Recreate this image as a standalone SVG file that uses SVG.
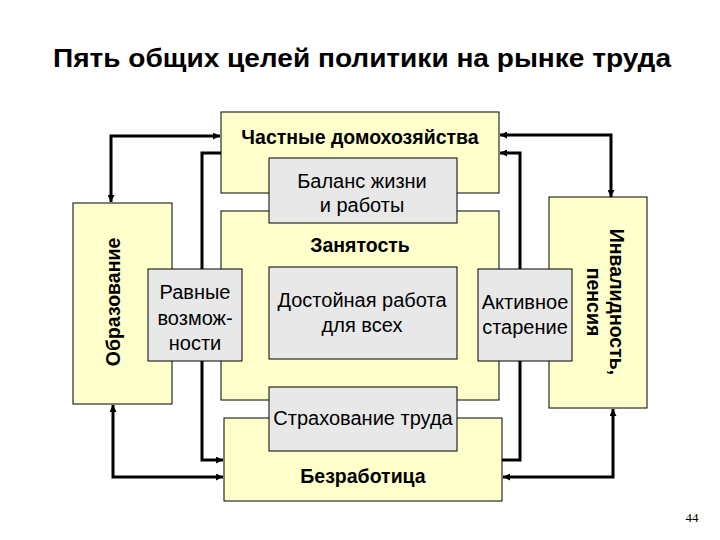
<svg xmlns="http://www.w3.org/2000/svg" width="720" height="540" viewBox="0 0 720 540">
<defs>
<marker id="ah" viewBox="0 0 10 10" refX="10" refY="5" markerWidth="9" markerHeight="7" markerUnits="userSpaceOnUse" orient="auto-start-reverse">
<path d="M0,0 L10,5 L0,10 z" fill="#000"/>
</marker>
<style>
.y{fill:#FFFFCC;stroke:#000;stroke-width:1}
.g{fill:#E8E8E8;stroke:#000;stroke-width:1}
.c{fill:none;stroke:#000;stroke-width:3}
.t{font-family:"Liberation Sans",Arial,sans-serif;font-size:20px;fill:#000;text-anchor:middle}
.b{font-family:"Liberation Sans",Arial,sans-serif;font-size:19.5px;font-weight:bold;fill:#000;text-anchor:middle}
</style>
</defs>
<rect width="720" height="540" fill="#fff"/>
<text x="362" y="67" font-family="'Liberation Sans',Arial,sans-serif" font-size="25" font-weight="bold" text-anchor="middle" textLength="618" lengthAdjust="spacingAndGlyphs">Пять общих целей политики на рынке труда</text>
<g id="connectors">
<path class="c" d="M220,136 H111 V202" marker-start="url(#ah)" marker-end="url(#ah)"/>
<path class="c" d="M500,135 H611 V197" marker-start="url(#ah)" marker-end="url(#ah)"/>
<path class="c" d="M221,153 H202 V460 H223" marker-end="url(#ah)"/>
<path class="c" d="M502,460 H520 V153 H500" marker-end="url(#ah)"/>
<path class="c" d="M113,405 V477 H223" marker-start="url(#ah)" marker-end="url(#ah)"/>
<path class="c" d="M613,409 V477 H503" marker-start="url(#ah)" marker-end="url(#ah)"/>
</g>
<g id="households">
<rect class="y" x="221" y="112" width="278" height="81"/>
<text class="b" x="360" y="144">Частные домохозяйства</text>
</g>
<g id="employment">
<rect class="y" x="221" y="211" width="278" height="189"/>
<text class="b" x="360" y="252">Занятость</text>
</g>
<g id="unemployment">
<rect class="y" x="224" y="418" width="278" height="83"/>
<text class="b" x="363" y="483">Безработица</text>
</g>
<g id="education">
<rect class="y" x="73" y="203" width="99" height="201"/>
<text class="b" x="120" y="302" transform="rotate(-90 120 302)">Образование</text>
</g>
<g id="disability">
<rect class="y" x="549" y="197" width="98" height="211"/>
<text class="b" transform="rotate(90 610 302)" x="610" y="302">Инвалидность,</text>
<text class="b" transform="rotate(90 587 302)" x="587" y="302">пенсия</text>
</g>
<g id="balance">
<rect class="g" x="269" y="158" width="188" height="65"/>
<text class="t" x="362" y="188">Баланс жизни</text>
<text class="t" x="362" y="212">и работы</text>
</g>
<g id="decent">
<rect class="g" x="269" y="267" width="188" height="92"/>
<text class="t" x="362" y="307">Достойная работа</text>
<text class="t" x="362" y="332">для всех</text>
</g>
<g id="equal">
<rect class="g" x="148" y="269" width="94" height="92"/>
<text class="t" x="195" y="299">Равные</text>
<text class="t" x="195" y="325">возмож-</text>
<text class="t" x="195" y="350">ности</text>
</g>
<g id="ageing">
<rect class="g" x="478" y="269" width="94" height="92"/>
<text class="t" x="525" y="309">Активное</text>
<text class="t" x="525" y="334">старение</text>
</g>
<g id="insurance">
<rect class="g" x="269" y="387" width="188" height="64"/>
<text class="t" x="363" y="425">Страхование труда</text>
</g>
<text x="692" y="522" font-family="'Liberation Serif','Times New Roman',serif" font-size="13" fill="#000" text-anchor="middle">44</text>
</svg>
